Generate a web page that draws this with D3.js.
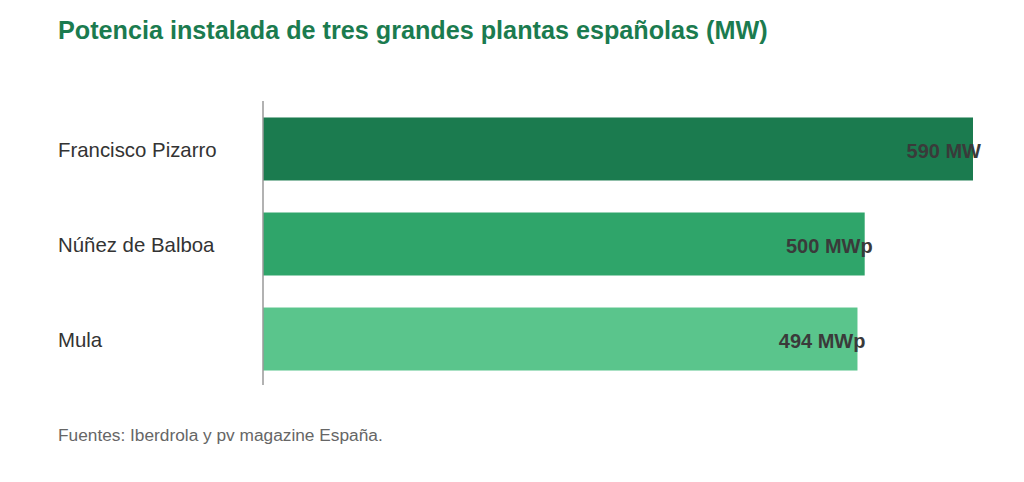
<!DOCTYPE html>
<html>
<head>
<meta charset="utf-8">
<script src="https://cdn.jsdelivr.net/npm/d3@7"></script>
<style>
  body { margin: 0; background: #fff; }
  svg text { font-family: "Liberation Sans", Arial, sans-serif; }
</style>
</head>
<body>
<div id="chart"></div>
<script>
// data
var plants = ["Francisco Pizarro", "Núñez de Balboa", "Mula"];
var power = [590, 500, 494];
var labels = ["590 MW", "500 MWp", "494 MWp"];
var colors = ["#1b7b4f", "#2fa56a", "#5ac58c"];

var title = "Potencia instalada de tres grandes plantas españolas (MW)";
var source = "Fuentes: Iberdrola y pv magazine España.";

var width = 1024, height = 482;

var svg = d3.select("#chart").append("svg")
  .attr("width", width)
  .attr("height", height);

var x = d3.scaleLinear()
  .domain([0, d3.max(power)])
  .range([263, 973]);

var y = d3.scaleBand()
  .domain(plants)
  .range([102, 386])
  .paddingInner(0.337)
  .paddingOuter(0.163);

svg.append("text")
  .attr("x", 58)
  .attr("y", 39)
  .attr("font-size", "25.2px")
  .attr("font-weight", "bold")
  .attr("fill", "#1b7b4f")
  .text(title);

// bars
svg.selectAll("rect.bar")
  .data(plants)
  .join("rect")
  .attr("class", "bar")
  .attr("x", x(0))
  .attr("y", d => y(d))
  .attr("width", (d, i) => x(power[i]) - x(0))
  .attr("height", y.bandwidth())
  .attr("fill", (d, i) => colors[i]);

// category labels
svg.selectAll("text.cat")
  .data(plants)
  .join("text")
  .attr("class", "cat")
  .attr("x", 58)
  .attr("y", d => y(d) + y.bandwidth() / 2 + 1)
  .attr("dy", "0.35em")
  .attr("font-size", "20.4px")
  .attr("fill", "#333")
  .text(d => d);

// value labels
svg.selectAll("text.val")
  .data(plants)
  .join("text")
  .attr("class", "val")
  .attr("x", (d, i) => x(power[i]) + 8)
  .attr("y", d => y(d) + y.bandwidth() / 2 + 2)
  .attr("dy", "0.35em")
  .attr("text-anchor", "end")
  .attr("font-size", "20px")
  .attr("font-weight", "bold")
  .attr("fill", "#3a3a3a")
  .text((d, i) => labels[i]);

// axis line
svg.append("line")
  .attr("x1", x(0)).attr("x2", x(0))
  .attr("y1", 101).attr("y2", 385)
  .attr("stroke", "#999")
  .attr("stroke-width", 1.5);

svg.append("text")
  .attr("x", 58)
  .attr("y", 441)
  .attr("font-size", "17.3px")
  .attr("fill", "#666")
  .text(source);
</script>
</body>
</html>
